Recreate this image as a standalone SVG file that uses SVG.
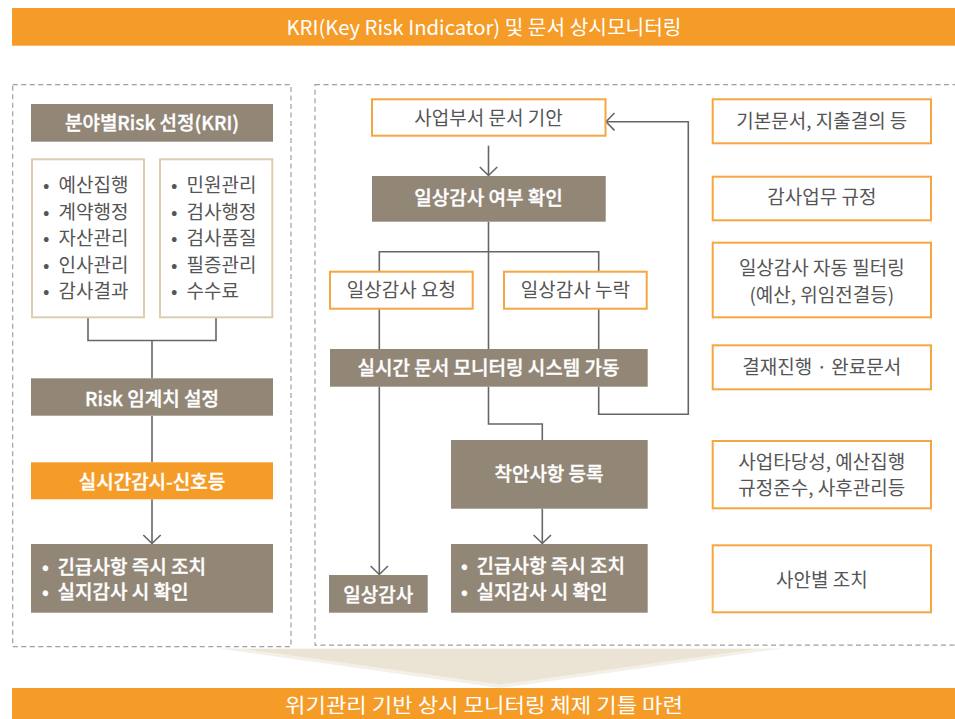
<svg xmlns="http://www.w3.org/2000/svg" width="955" height="719" viewBox="0 0 955 719">
<style>
text{font-family:"Noto Sans CJK KR","Noto Sans",sans-serif;}
.banner{fill:#f59c28;}
.bt{fill:#fff;font-size:20px;text-anchor:middle;}
.brown{fill:#928677;}
.wt{fill:#fff;stroke:#fff;stroke-width:0.35;font-size:19px;font-weight:500;text-anchor:middle;}
.wl{fill:#fff;stroke:#fff;stroke-width:0.35;font-size:19px;font-weight:500;}
.ob{fill:#fff;stroke:#f6a640;stroke-width:2;}
.tb{fill:#fff;stroke:#dccdb0;stroke-width:2;}
.gt{fill:#555;font-size:19px;text-anchor:middle;}
.gl{fill:#555;font-size:19px;}
.dash{fill:none;stroke:#a0a0a0;stroke-width:1.2;stroke-dasharray:5 3.5;}
.ln{fill:none;stroke:#666;stroke-width:1.6;}
</style>
<defs>
<marker id="arr" markerUnits="userSpaceOnUse" viewBox="0 0 12 20" refX="9.5" refY="10" markerWidth="12" markerHeight="20" orient="auto">
<path d="M1,1.3 L9.5,10 L1,18.7" fill="none" stroke="#666" stroke-width="1.6"/>
</marker>
</defs>

<g id="top-banner">
<rect class="banner" x="12" y="8" width="943" height="37.7"/>
<text class="bt" x="484" y="35" textLength="395" lengthAdjust="spacingAndGlyphs">KRI(Key Risk Indicator) 및 문서 상시모니터링</text>
</g>

<g id="frames">
<rect class="dash" x="12.7" y="84.7" width="278.3" height="562"/>
<rect class="dash" x="315" y="84.7" width="660" height="560.5"/>
</g>

<g id="funnel">
<polygon points="219,648.5 782,648.5 500,688" fill="#f4f0e7"/>
<polygon points="245,649 756,649 500,684.5" fill="#ebe3d4"/>
</g>

<g id="bottom-banner">
<rect class="banner" x="12" y="688" width="943" height="31"/>
<text class="bt" x="484" y="713" font-size="19" textLength="398" lengthAdjust="spacingAndGlyphs">위기관리 기반 상시 모니터링 체제 기틀 마련</text>
</g>

<g id="connectors">
<polyline class="ln" points="88,317.5 88,340.5 216,340.5 216,317.5"/>
<line class="ln" x1="152" y1="340.5" x2="152" y2="378.3"/>
<line class="ln" x1="152" y1="415.7" x2="152" y2="462.3"/>
<line class="ln" x1="152" y1="499.3" x2="152" y2="543.5" marker-end="url(#arr)"/>
<line class="ln" x1="488.5" y1="145.7" x2="488.5" y2="175.5" marker-end="url(#arr)"/>
<line class="ln" x1="488.5" y1="221.7" x2="488.5" y2="349"/>
<polyline class="ln" points="379.3,271.7 379.3,251.7 598.7,251.7 598.7,271.7"/>
<line class="ln" x1="379.3" y1="308.7" x2="379.3" y2="349"/>
<line class="ln" x1="598.7" y1="308.7" x2="598.7" y2="349"/>
<polyline class="ln" points="598.7,386.7 598.7,414.3 688.3,414.3 688.3,121.7 606,121.7" marker-end="url(#arr)"/>
<line class="ln" x1="379.3" y1="386.7" x2="379.3" y2="574.5" marker-end="url(#arr)"/>
<polyline class="ln" points="488.5,386.7 488.5,424 542.3,424 542.3,440"/>
<line class="ln" x1="542.3" y1="508.7" x2="542.3" y2="543.5" marker-end="url(#arr)"/>
</g>

<g id="kri-header">
<rect class="brown" x="31" y="104" width="242" height="37.7"/>
<text class="wt" x="152" y="130">분야별Risk 선정(KRI)</text>
</g>

<g id="list-a">
<rect class="tb" x="32" y="159.3" width="112" height="158"/>
<text class="gl"><tspan x="43" y="192">•</tspan><tspan x="58.5">예산집행</tspan></text>
<text class="gl"><tspan x="43" y="218.7">•</tspan><tspan x="58.5">계약행정</tspan></text>
<text class="gl"><tspan x="43" y="245.3">•</tspan><tspan x="58.5">자산관리</tspan></text>
<text class="gl"><tspan x="43" y="272">•</tspan><tspan x="58.5">인사관리</tspan></text>
<text class="gl"><tspan x="43" y="297.7">•</tspan><tspan x="58.5">감사결과</tspan></text>
</g>

<g id="list-b">
<rect class="tb" x="160" y="159.3" width="112.3" height="158"/>
<text class="gl"><tspan x="171" y="192">•</tspan><tspan x="186.5">민원관리</tspan></text>
<text class="gl"><tspan x="171" y="218.7">•</tspan><tspan x="186.5">검사행정</tspan></text>
<text class="gl"><tspan x="171" y="245.3">•</tspan><tspan x="186.5">검사품질</tspan></text>
<text class="gl"><tspan x="171" y="272">•</tspan><tspan x="186.5">필증관리</tspan></text>
<text class="gl"><tspan x="171" y="297.7">•</tspan><tspan x="186.5">수수료</tspan></text>
</g>

<g id="risk-threshold">
<rect class="brown" x="31" y="378.3" width="242" height="37.4"/>
<text class="wt" x="152" y="405.5">Risk 임계치 설정</text>
</g>

<g id="signal">
<rect class="banner" x="31" y="462.3" width="242" height="37"/>
<text class="wt" x="152" y="488.7">실시간감시-신호등</text>
</g>

<g id="left-action">
<rect class="brown" x="31" y="544" width="242" height="68.7"/>
<text class="wl"><tspan x="42" y="573.7">•</tspan><tspan x="57.5">긴급사항 즉시 조치</tspan></text>
<text class="wl"><tspan x="42" y="598.7">•</tspan><tspan x="57.5">실지감사 시 확인</tspan></text>
</g>

<g id="draft">
<rect class="ob" x="372" y="99.3" width="233.5" height="36.4"/>
<text class="gt" x="488.5" y="125.3">사업부서 문서 기안</text>
</g>

<g id="check">
<rect class="brown" x="372" y="176" width="233.7" height="45.7"/>
<text class="wt" x="488.5" y="205.3">일상감사 여부 확인</text>
</g>

<g id="request">
<rect class="ob" x="330" y="271.7" width="142.7" height="37"/>
<text class="gt" x="401.3" y="297">일상감사 요청</text>
</g>

<g id="missing">
<rect class="ob" x="504" y="271.7" width="142.7" height="37"/>
<text class="gt" x="575.3" y="297">일상감사 누락</text>
</g>

<g id="monitoring">
<rect class="brown" x="330" y="349" width="317.7" height="37.7"/>
<text class="wt" x="488.5" y="375.3">실시간 문서 모니터링 시스템 가동</text>
</g>

<g id="register">
<rect class="brown" x="451" y="440" width="196.7" height="68.7"/>
<text class="wt" x="549" y="481">착안사항 등록</text>
</g>

<g id="daily-audit">
<rect class="brown" x="329" y="575" width="98.7" height="37.7"/>
<text class="wt" x="378.3" y="602">일상감사</text>
</g>

<g id="right-action">
<rect class="brown" x="451" y="544" width="196.7" height="68.7"/>
<text class="wl"><tspan x="461" y="573">•</tspan><tspan x="476.5">긴급사항 즉시 조치</tspan></text>
<text class="wl"><tspan x="461" y="598.7">•</tspan><tspan x="476.5">실지감사 시 확인</tspan></text>
</g>

<g id="note-docs">
<rect class="ob" x="712.7" y="99.3" width="218.3" height="44"/>
<text class="gt" x="821.8" y="127.7">기본문서, 지출결의 등</text>
</g>

<g id="note-rules">
<rect class="ob" x="712.7" y="176.7" width="218.3" height="43.6"/>
<text class="gt" x="821.8" y="204.3">감사업무 규정</text>
</g>

<g id="note-filter">
<rect class="ob" x="712.7" y="242.7" width="218.3" height="74.6"/>
<text class="gt" x="821.8" y="274.7">일상감사 자동 필터링</text>
<text class="gt" x="821.8" y="302">(예산, 위임전결등)</text>
</g>

<g id="note-approval">
<rect class="ob" x="712.7" y="345.3" width="218.3" height="44"/>
<text class="gt" x="821.8" y="374.3">결재진행 · 완료문서</text>
</g>

<g id="note-criteria">
<rect class="ob" x="712.7" y="441" width="218.3" height="67.3"/>
<text class="gt" x="821.8" y="468.7">사업타당성, 예산집행</text>
<text class="gt" x="821.8" y="495.3">규정준수, 사후관리등</text>
</g>

<g id="note-measures">
<rect class="ob" x="712.7" y="545.3" width="218.3" height="67"/>
<text class="gt" x="821.8" y="587">사안별 조치</text>
</g>
</svg>
